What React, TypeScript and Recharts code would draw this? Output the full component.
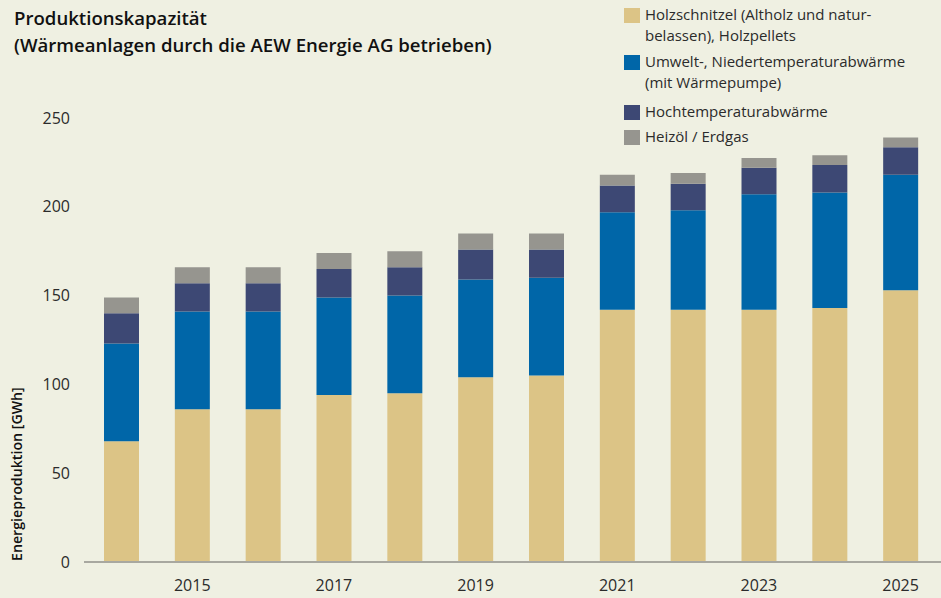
import { BarChart, Bar, XAxis, YAxis } from 'recharts';

const years = ['2014', '2015', '2016', '2017', '2018', '2019', '2020', '2021', '2022', '2023', '2024', '2025'];
const holz = [68, 86, 86, 94, 95, 104, 105, 142, 142, 142, 143, 153];
const umwelt = [55, 55, 55, 55, 55, 55, 55, 55, 56, 65, 65, 65];
const hochtemp = [17, 16, 16, 16, 16, 17, 16, 15, 15, 15, 15.5, 15.5];
const heizoel = [9, 9, 9, 9, 9, 9, 9, 6, 6, 5.5, 5.5, 5.5];
const yTicks = [0, 50, 100, 150, 200, 250];

const COLORS = {
  holz: '#dcc486',
  umwelt: '#0066a8',
  hochtemp: '#3d4874',
  heizoel: '#96958f',
};

const FONT = '"Open Sans", sans-serif';
const TEXT = '#2b2b2b';

const data = years.map((year, i) => ({
  year,
  holz: holz[i],
  umwelt: umwelt[i],
  hochtemp: hochtemp[i],
  heizoel: heizoel[i],
}));

const legend = [
  { color: COLORS.holz, lines: ['Holzschnitzel  (Altholz und natur-', 'belassen), Holzpellets'], top: 8 },
  { color: COLORS.umwelt, lines: ['Umwelt-, Niedertemperaturabwärme', '(mit Wärmepumpe)'], top: 55 },
  { color: COLORS.hochtemp, lines: ['Hochtemperaturabwärme'], top: 105 },
  { color: COLORS.heizoel, lines: ['Heizöl / Erdgas'], top: 130 },
];

export default function App() {
  return (
    <div
      style={{
        position: 'absolute',
        left: 0,
        top: 0,
        width: 941,
        height: 598,
        background: '#eff0e2',
        fontFamily: FONT,
        overflow: 'hidden',
      }}
    >
      <div style={{ position: 'absolute', left: 0, top: 0 }}>
        <BarChart
          width={941}
          height={598}
          data={data}
          margin={{ top: 118, right: 0, bottom: 6, left: 14 }}
          barSize={35}
        >
          <XAxis
            dataKey="year"
            interval={0}
            axisLine={{ stroke: '#a8a8a0', strokeWidth: 2 }}
            tickLine={false}
            padding={{ left: 2, right: 5 }}
            height={30}
            tickMargin={12}
            tick={{ fill: TEXT, fontSize: 16, fontFamily: FONT }}
            tickFormatter={(v: string) => (Number(v) % 2 === 1 ? v : '')}
          />
          <YAxis
            type="number"
            domain={[0, 250]}
            ticks={yTicks}
            width={70}
            axisLine={false}
            tickLine={false}
            tickMargin={8}
            tick={{ fill: TEXT, fontSize: 16, fontFamily: FONT }}
          />
          <Bar dataKey="holz" stackId="a" fill={COLORS.holz} isAnimationActive={false} />
          <Bar dataKey="umwelt" stackId="a" fill={COLORS.umwelt} isAnimationActive={false} />
          <Bar dataKey="hochtemp" stackId="a" fill={COLORS.hochtemp} isAnimationActive={false} />
          <Bar dataKey="heizoel" stackId="a" fill={COLORS.heizoel} isAnimationActive={false} />
        </BarChart>
      </div>

      <svg width={30} height={598} style={{ position: 'absolute', left: 0, top: 0 }}>
        <text
          transform="translate(22,561) rotate(-90)"
          textAnchor="start"
          fill="#111"
          fontSize={14.2}
          fontWeight={600}
          fontFamily={FONT}
        >
          Energieproduktion [GWh]
        </text>
      </svg>

      <div
        style={{
          position: 'absolute',
          left: 14,
          top: 4,
          fontSize: 18.6,
          fontWeight: 600,
          lineHeight: '27px',
          color: '#111',
        }}
      >
        Produktionskapazität
        <br />
        (Wärmeanlagen durch die AEW Energie AG betrieben)
      </div>

      {legend.map((item) => (
        <div key={item.lines[0]} style={{ position: 'absolute', left: 624, top: item.top }}>
          <div style={{ position: 'absolute', left: 0, top: 0, width: 16, height: 15, background: item.color }} />
          <div
            style={{
              position: 'absolute',
              left: 21,
              top: -4,
              whiteSpace: 'nowrap',
              fontSize: 15,
              lineHeight: '21px',
              color: TEXT,
            }}
          >
            {item.lines.map((l) => (
              <div key={l}>{l}</div>
            ))}
          </div>
        </div>
      ))}
    </div>
  );
}
